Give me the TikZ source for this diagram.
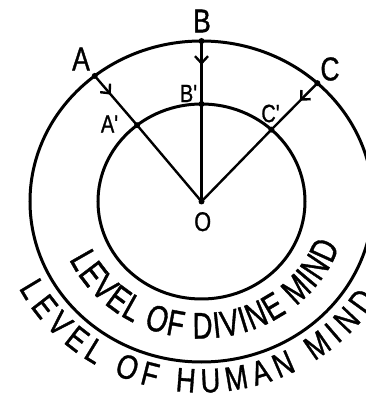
\documentclass[tikz,border=0pt]{standalone}
\usepackage{fontspec}
\newfontfamily\hand[FakeStretch=0.8, FakeBold=1]{Liberation Sans}
\newfontfamily\handnarrow[FakeStretch=0.74, FakeBold=1]{Liberation Sans}
\usetikzlibrary{arrows.meta,decorations.markings,decorations.text}
\begin{document}
\begin{tikzpicture}[x=1pt, y=1pt, line join=round, line cap=round,
		ray/.style={line width=2.4pt, postaction={decorate},
			decoration={markings, mark=at position 0.38 with {\arrow{Straight Barb[length=7pt, width=13pt]}}}},
		big/.style={font=\hand\fontsize{33}{33}\selectfont},
		small/.style={font=\hand\fontsize{25}{25}\selectfont}]
	\useasboundingbox (-201.5,-196.5) rectangle (163.5,201.5);
	\def\ra{171.5} \def\rb{160.5} \def\ia{103.5} \def\ib{97.5}
	\path (0,0) coordinate (O);
	\foreach \t/\n in {128.5/A, 90/B, 47.5/C}{
		\path ({\ra*cos(\t)},{\rb*sin(\t)}) coordinate (\n)
			({\ia*cos(\t)},{\ib*sin(\t)}) coordinate (p\n);
	}
	\draw[line width=3pt] (O) ellipse ({\ra} and {\rb});
	\draw[line width=3pt] (O) ellipse ({\ia} and {\ib});
	\foreach \n in {A,B,C}{
		\draw[ray] (\n) -- (p\n);
		\draw[line width=2.4pt] (p\n) -- (O);
	}
	\foreach \n in {A,B,C,pA,pB,pC,O}{
		\fill (\n) circle (3);
	}
	\node[big] (lA) at (-120.5,142.5) {A};
	\node[big] (lB) at (0.5,180.5) {B};
	\node[big] (lC) at (128.5,132.5) {C};
	\node[small] (lpA) at (-91.5,77.5) {A\textquotesingle};
	\node[small] (lpB) at (-12.5,108) {B\textquotesingle};
	\node[small] (lpC) at (69.5,88) {C\textquotesingle};
	\node[font=\hand\fontsize{27}{27}\selectfont] (lO) at (1.2,-20.2) {O};
	% curved captions
	\path[decorate, decoration={text along path, text align=fit to path,
		text={|\handnarrow\fontsize{37}{37}\selectfont|LEVEL OF DIVINE MIND}}]
		(O) ++(205:146 and 137) arc[start angle=205, end angle=341, x radius=146, y radius=137];
	\path[decorate, decoration={text along path, text align=fit to path,
		text={|\hand\fontsize{34}{34}\selectfont|LEVEL OF HUMAN MIND}}]
		(O) ++(207:205 and 191) arc[start angle=207, end angle=329, x radius=205, y radius=191];
\end{tikzpicture}
\end{document}
